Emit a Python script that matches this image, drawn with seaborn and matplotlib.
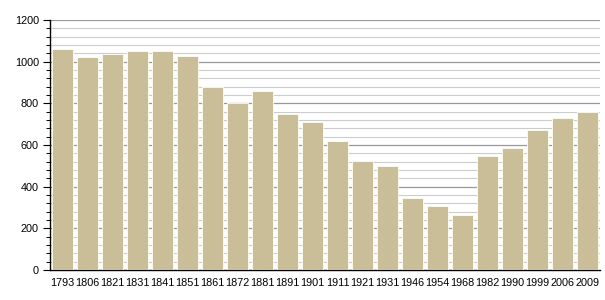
import matplotlib
matplotlib.use("Agg")
import matplotlib.pyplot as plt
from matplotlib.ticker import MultipleLocator
import seaborn as sns
import pandas as pd

years = ["1793", "1806", "1821", "1831", "1841", "1851", "1861", "1872", "1881", "1891",
         "1901", "1911", "1921", "1931", "1946", "1954", "1968", "1982", "1990", "1999",
         "2006", "2009"]
population = [1060, 1022, 1037, 1051, 1051, 1027, 877, 802, 861, 749,
              710, 619, 523, 499, 346, 307, 264, 547, 586, 673,
              730, 758]

df = pd.DataFrame({"year": years, "pop": population})

sns.set_style("white")
plt.rcParams['font.family'] = ['Liberation Sans', 'DejaVu Sans']

fig = plt.figure(figsize=(6.05, 3.0), dpi=100)
ax = fig.add_axes([50/605, 30/300, 550/605, 250/300])

sns.barplot(data=df, x="year", y="pop", color="#c9be98", saturation=1,
            width=0.82, edgecolor="#fffff0", linewidth=0.6, ax=ax, zorder=3)

ax.set_xlim(-0.5, len(years) - 0.5)
ax.set_ylim(0, 1200)
ax.yaxis.set_major_locator(MultipleLocator(200))
ax.yaxis.set_minor_locator(MultipleLocator(40))
ax.grid(axis="y", which="major", color="#999999", linewidth=0.9, zorder=0)
ax.grid(axis="y", which="minor", color="#cccccc", linewidth=0.8, zorder=0)
ax.grid(axis="x", visible=False)
ax.set_axisbelow(True)

for s in ["top", "right"]:
    ax.spines[s].set_visible(False)
ax.spines["left"].set_color("black")
ax.spines["bottom"].set_color("black")
ax.spines["left"].set_linewidth(1.0)
ax.spines["bottom"].set_linewidth(1.0)

ax.tick_params(axis="y", which="major", left=True, length=5, width=0.8, color="black",
               labelsize=7.8, labelcolor="black", pad=3)
ax.tick_params(axis="y", which="minor", left=True, length=3, width=0.7, color="black")
ax.tick_params(axis="x", which="both", bottom=False, labelsize=7.8, labelcolor="black", pad=2)
ax.set_xlabel("")
ax.set_ylabel("")

fig.savefig("out.png", dpi=100)
